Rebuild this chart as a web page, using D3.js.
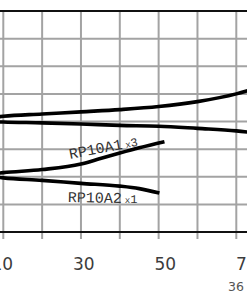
<!DOCTYPE html>
<html>
<head>
<meta charset="utf-8">
<script src="https://cdn.jsdelivr.net/npm/d3@7"></script>
<style>
  body { margin: 0; background: #fff; }
  svg { display: block; }
</style>
</head>
<body>
<div class="graph"></div>
<script>
(function() {
    // flow (x) and the two long curves
    var upperX = [8, 10, 20, 30, 40, 50, 60, 70, 74];
    var upperY = [41.6, 41.9, 42.7, 43.5, 44.3, 45.4, 47.2, 50.0, 51.6];
    var middleX = [8, 10, 20, 30, 40, 50, 60, 70, 74];
    var middleY = [39.9, 39.8, 39.5, 39.1, 38.6, 38.3, 37.5, 36.6, 36.0];

    // the two short labelled curves
    var rp1X = [8, 10, 20, 30, 35, 40, 45, 51.5];
    var rp1Y = [21.2, 21.5, 22.6, 24.6, 26.6, 28.6, 30.5, 32.7];
    var rp2X = [8, 10, 20, 30, 40, 45, 50.2];
    var rp2Y = [19.9, 19.6, 18.7, 17.6, 16.6, 15.7, 14.1];

    var xTicks = [10, 30, 50, 70];
    var xGrid = [0, 10, 20, 30, 40, 50, 60, 70, 80];
    var yGrid = [10, 20, 30, 40, 50, 60, 70];

    var width = 247;
    var height = 296;

    var x = d3.scaleLinear()
        .domain([10, 70])
        .range([3.3, 236.3]);

    // the scanned labels sit a little wider apart than the grid
    var xLabel = d3.scaleLinear()
        .domain([10, 70])
        .range([2.2, 246.7]);

    var y = d3.scaleLinear()
        .domain([0, 80])
        .range([232, 11]);

    var svg = d3.select(".graph")
        .append("svg")
            .attr("width", width)
            .attr("height", height);

    // grid
    svg.append("g")
        .selectAll("line")
        .data(yGrid)
        .enter().append("line")
            .attr("x1", 0)
            .attr("x2", width)
            .attr("y1", function(d) { return y(d); })
            .attr("y2", function(d) { return y(d); })
            .attr("stroke", "#a3a3a3")
            .attr("stroke-width", 2);

    svg.append("g")
        .selectAll("line")
        .data(xGrid)
        .enter().append("line")
            .attr("x1", function(d) { return x(d); })
            .attr("x2", function(d) { return x(d); })
            .attr("y1", y(80))
            .attr("y2", y(0) + 7)
            .attr("stroke", "#a3a3a3")
            .attr("stroke-width", 2);

    // top and bottom frame
    svg.append("g")
        .selectAll("line")
        .data([0, 80])
        .enter().append("line")
            .attr("x1", 0)
            .attr("x2", width)
            .attr("y1", function(d) { return y(d); })
            .attr("y2", function(d) { return y(d); })
            .attr("stroke", "#111")
            .attr("stroke-width", 2.2);

    // tick labels
    svg.append("g")
        .selectAll("text")
        .data(xTicks)
        .enter().append("text")
            .attr("x", function(d) { return xLabel(d); })
            .attr("y", 270)
            .attr("text-anchor", "middle")
            .style("font-family", "DejaVu Sans, sans-serif")
            .style("font-size", "17px")
            .style("fill", "#3c3c3c")
            .text(function(d) { return d; });

    svg.append("text")
        .attr("x", 228)
        .attr("y", 291)
        .style("font-family", "DejaVu Sans, sans-serif")
        .style("font-size", "12.5px")
        .style("fill", "#555")
        .text("36");

    var line = d3.line()
        .x(function(d) { return x(d[0]); })
        .y(function(d) { return y(d[1]); })
        .curve(d3.curveMonotoneX);

    var curves = [
        d3.zip(upperX, upperY),
        d3.zip(middleX, middleY),
        d3.zip(rp1X, rp1Y),
        d3.zip(rp2X, rp2Y)
    ];

    svg.append("g")
        .selectAll("path")
        .data(curves)
        .enter().append("path")
            .attr("d", line)
            .attr("fill", "none")
            .attr("stroke", "#000")
            .attr("stroke-width", 3.6)
            .attr("stroke-linecap", "butt");

    // curve labels
    var lbl1 = svg.append("text")
        .attr("transform", "translate(" + (x(27.2)) + "," + 159 + ") rotate(-11)")
        .style("font-family", "Liberation Mono, monospace")
        .style("font-size", "15px")
        .style("fill", "#333");
    lbl1.append("tspan").text("RP10A1");
    lbl1.append("tspan").attr("dx", 3).style("font-size", "9px").text("x");
    lbl1.append("tspan").style("font-size", "12px").text("3");

    var lbl2 = svg.append("text")
        .attr("transform", "translate(" + (x(26.6)) + "," + 202 + ") rotate(1)")
        .style("font-family", "Liberation Mono, monospace")
        .style("font-size", "15px")
        .style("fill", "#333");
    lbl2.append("tspan").text("RP10A2");
    lbl2.append("tspan").attr("dx", 3).style("font-size", "9px").text("x");
    lbl2.append("tspan").style("font-size", "12px").text("1");
})();
</script>
</body>
</html>
